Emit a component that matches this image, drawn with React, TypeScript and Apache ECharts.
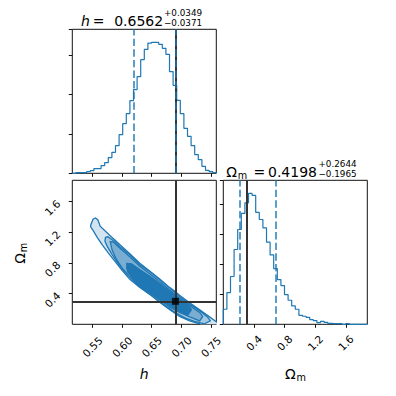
import React, { useEffect, useRef } from "react";
import * as echarts from "echarts";

// ---------- data ----------
const hRange = [0.516, 0.759];
const omRange = [0.0, 1.88];

// 40-bin histogram counts
const hCounts = [0, 9, 9, 9, 22, 34, 60, 60, 98, 136, 200, 267, 352, 492, 632, 759, 925, 1065, 1230, 1446,
  1577, 1657, 1666, 1666, 1641, 1590, 1514, 1294, 1120, 929, 759, 572, 471, 352, 238, 174, 89, 38, 22, 9];
const omCounts = [251, 529, 797, 1247, 1581, 1849, 2026, 2183, 2149, 1865, 1748, 1608, 1369, 1157, 930, 746, 646, 496, 401, 306,
  251, 150, 134, 117, 78, 62, 28, 50, 33, 17, 12, 12, 12, 0, 12, 0, 0, 0, 0, 0];

const hTicks = [0.55, 0.6, 0.65, 0.7, 0.75];
const omTicks = [0.4, 0.8, 1.2, 1.6];
const countTickStep = 500;

const hTruth = 0.69;
const omTruth = 0.3;
const hStats = { med: 0.6562, plus: 0.0349, minus: 0.0371 };
const omStats = { med: 0.4198, plus: 0.2644, minus: 0.1965 };

// contour levels (outer -> inner), vertices [h, Omega_m]
const contourL1 = [
  [0.547, 1.293], [0.551, 1.371], [0.555, 1.388], [0.559, 1.365], [0.561, 1.325], [0.563, 1.28],
  [0.58, 1.155], [0.5965, 1.038], [0.613, 0.92], [0.63, 0.796], [0.647, 0.691], [0.664, 0.587],
  [0.68, 0.482], [0.689, 0.43], [0.697, 0.378], [0.714, 0.28], [0.731, 0.188], [0.7475, 0.097],
  [0.764, 0.005], [0.77, -0.08], [0.739, -0.08], [0.731, 0.005], [0.714, 0.044], [0.697, 0.103],
  [0.68, 0.195], [0.664, 0.286], [0.647, 0.391], [0.63, 0.482], [0.613, 0.587], [0.6, 0.705],
  [0.588, 0.822], [0.576, 0.94], [0.566, 1.044], [0.558, 1.136], [0.551, 1.227], [0.547, 1.273],
];
const contourL2 = [
  [0.572, 1.136], [0.576, 1.143], [0.588, 1.077], [0.5965, 1.012], [0.613, 0.908], [0.63, 0.777],
  [0.647, 0.685], [0.664, 0.581], [0.68, 0.476], [0.697, 0.359], [0.714, 0.267], [0.731, 0.176],
  [0.744, 0.097], [0.749, 0.045], [0.739, 0.005], [0.722, 0.038], [0.706, 0.084], [0.689, 0.156],
  [0.672, 0.247], [0.655, 0.345], [0.638, 0.443], [0.622, 0.548], [0.605, 0.678], [0.593, 0.796],
  [0.583, 0.914], [0.575, 1.018], [0.571, 1.084],
];
const contourL3 = [
  [0.58, 1.08], [0.585, 1.077], [0.5965, 0.992], [0.613, 0.881], [0.63, 0.757], [0.647, 0.659],
  [0.664, 0.554], [0.68, 0.45], [0.697, 0.338], [0.714, 0.247], [0.731, 0.155], [0.736, 0.103],
  [0.731, 0.045], [0.714, 0.097], [0.697, 0.156], [0.68, 0.227], [0.664, 0.319], [0.647, 0.41],
  [0.63, 0.502], [0.613, 0.62], [0.6, 0.737], [0.59, 0.855], [0.583, 0.972],
];
const contourL4 = [
  [0.608, 0.796], [0.616, 0.79], [0.63, 0.711], [0.647, 0.626], [0.664, 0.528], [0.68, 0.43],
  [0.689, 0.385], [0.703, 0.3], [0.714, 0.228], [0.717, 0.189], [0.711, 0.123], [0.692, 0.188],
  [0.675, 0.273], [0.658, 0.358], [0.641, 0.443], [0.63, 0.509], [0.619, 0.594], [0.61, 0.678],
  [0.608, 0.727],
];
const contours = [contourL1, contourL2, contourL3, contourL4];

// ---------- styles ----------
const blue = "#1f77b4";
const fills = ["#d2e4f0", "#a5c9e1", "#79add2", "#1f77b4"];
const truthColor = "#333333";
const qColor = "rgba(31,119,180,0.72)";
const font = "DejaVu Sans";
const spine = "#111";

function histLine(range: number[], counts: number[]) {
  const n = counts.length;
  const w = (range[1] - range[0]) / n;
  const pts: number[][] = [[range[0], 0]];
  counts.forEach((c, i) => pts.push([range[0] + i * w, c]));
  pts.push([range[1], counts[n - 1]]);
  pts.push([range[1], 0]);
  return pts;
}

const tickStyle = { show: true, length: 3.5, lineStyle: { color: spine, width: 1 } };
const labelBase = { color: "#000", fontFamily: font, fontSize: 10.5 };

function vline(x: number, dashed: boolean) {
  return {
    xAxis: x,
    lineStyle: dashed
      ? { color: qColor, width: 2, type: [7.4, 3.2] }
      : { color: truthColor, width: 2, type: "solid" },
  };
}

const gridBox = { show: true, borderColor: spine, borderWidth: 1, backgroundColor: "transparent" };

function txt(x: number, y: number, text: string, size: number, align: string, extra: any = {}) {
  return {
    type: "text",
    x,
    y,
    ...(extra.el || {}),
    style: {
      text,
      fontFamily: font,
      fontSize: size,
      fontStyle: extra.italic ? "italic" : "normal",
      fill: "#000",
      align,
      textAlign: align,
      verticalAlign: "middle",
      textVerticalAlign: "middle",
    },
  };
}

const scriptSize = 8.8;

const option: any = {
  animation: false,
  backgroundColor: "#fff",
  grid: [
    { left: 72.3, top: 29.3, width: 144, height: 144, ...gridBox },
    { left: 72.3, top: 180.3, width: 144, height: 144, ...gridBox },
    { left: 223.3, top: 180.3, width: 144, height: 144, ...gridBox },
  ],
  xAxis: [
    {
      type: "value", gridIndex: 0, min: hRange[0], max: hRange[1],
      axisLine: { show: false }, splitLine: { show: false },
      axisTick: { ...tickStyle, customValues: hTicks },
      axisLabel: { show: false, customValues: hTicks },
    },
    {
      type: "value", gridIndex: 1, min: hRange[0], max: hRange[1],
      axisLine: { show: false }, splitLine: { show: false },
      axisTick: { ...tickStyle, customValues: hTicks },
      axisLabel: {
        ...labelBase, customValues: hTicks, rotate: 45, align: "center", verticalAlign: "middle", margin: 22.5,
        formatter: (v: number) => v.toFixed(2),
      },
    },
    {
      type: "value", gridIndex: 2, min: omRange[0], max: omRange[1],
      axisLine: { show: false }, splitLine: { show: false },
      axisTick: { ...tickStyle, customValues: omTicks },
      axisLabel: {
        ...labelBase, customValues: omTicks, rotate: 45, align: "center", verticalAlign: "middle", margin: 18.5,
        formatter: (v: number) => v.toFixed(1),
      },
    },
  ],
  yAxis: [
    {
      type: "value", gridIndex: 0, min: 0, max: Math.max(...hCounts) * 1.1, interval: countTickStep,
      axisLine: { show: false }, splitLine: { show: false },
      axisTick: tickStyle, axisLabel: { show: false },
    },
    {
      type: "value", gridIndex: 1, min: omRange[0], max: omRange[1],
      axisLine: { show: false }, splitLine: { show: false },
      axisTick: { ...tickStyle, customValues: omTicks },
      axisLabel: {
        ...labelBase, customValues: omTicks, rotate: 45, margin: 14,
        formatter: (v: number) => v.toFixed(1),
      },
    },
    {
      type: "value", gridIndex: 2, min: 0, max: Math.max(...omCounts) * 1.1, interval: countTickStep,
      axisLine: { show: false }, splitLine: { show: false },
      axisTick: tickStyle, axisLabel: { show: false },
    },
  ],
  series: [
    {
      type: "line", xAxisIndex: 0, yAxisIndex: 0, step: "end", showSymbol: false, silent: true,
      data: histLine(hRange, hCounts), lineStyle: { color: blue, width: 1.2 },
      markLine: {
        silent: true, symbol: ["none", "none"], label: { show: false }, animation: false,
        data: [vline(hTruth, false), vline(hStats.med - hStats.minus, true), vline(hStats.med + hStats.plus, true)],
      },
    },
    {
      type: "custom", xAxisIndex: 1, yAxisIndex: 1, clip: true, silent: true,
      data: contours.map((_, i) => [i]),
      renderItem: (params: any, api: any) => {
        const poly = contours[params.dataIndex];
        return {
          type: "polygon",
          shape: { points: poly.map((p) => api.coord(p)) },
          style: { fill: fills[params.dataIndex], stroke: blue, lineWidth: 1.3 },
        };
      },
    },
    {
      type: "scatter", xAxisIndex: 1, yAxisIndex: 1, silent: true, z: 10,
      data: [[hTruth, omTruth]], symbol: "rect", symbolSize: 7, itemStyle: { color: "#000" },
      markLine: {
        silent: true, symbol: ["none", "none"], label: { show: false }, animation: false,
        lineStyle: { color: truthColor, width: 2, type: "solid" },
        data: [{ xAxis: hTruth }, { yAxis: omTruth }],
      },
    },
    {
      type: "line", xAxisIndex: 2, yAxisIndex: 2, step: "end", showSymbol: false, silent: true,
      data: histLine(omRange, omCounts), lineStyle: { color: blue, width: 1.2 },
      markLine: {
        silent: true, symbol: ["none", "none"], label: { show: false }, animation: false,
        data: [vline(omTruth, false), vline(omStats.med - omStats.minus, true), vline(omStats.med + omStats.plus, true)],
      },
    },
  ],
  graphic: [
    // title h
    txt(81, 20.8, "h", 14, "left", { italic: true }),
    txt(98.6, 20.8, "=", 14, "center"),
    txt(163.2, 20.8, hStats.med.toFixed(4), 14, "right"),
    txt(164, 12.8, "+" + hStats.plus.toFixed(4), scriptSize, "left"),
    txt(164, 23.2, "\u2212" + hStats.minus.toFixed(4), scriptSize, "left"),
    // title Omega_m
    txt(226.3, 172.2, "\u03a9", 14, "left"),
    txt(237.8, 175.7, "m", 9.7, "left"),
    txt(259.3, 172.2, "=", 14, "center"),
    txt(317, 172.2, omStats.med.toFixed(4), 14, "right"),
    txt(318.5, 164.0, "+" + omStats.plus.toFixed(4), scriptSize, "left"),
    txt(318.5, 174.4, "\u2212" + omStats.minus.toFixed(4), scriptSize, "left"),
    // axis labels
    txt(144.2, 374, "h", 14, "center", { italic: true }),
    txt(285, 374.4, "\u03a9", 14, "left"),
    txt(296.5, 377.8, "m", 9.7, "left"),
    txt(20.1, 263.8, "\u03a9", 14, "left", { el: { rotation: Math.PI / 2 } }),
    txt(23.5, 252.3, "m", 9.7, "left", { el: { rotation: Math.PI / 2 } }),
  ],
};

export default function App() {
  const ref = useRef<HTMLDivElement>(null);
  useEffect(() => {
    const chart = echarts.init(ref.current!, null, { renderer: "svg" });
    chart.setOption(option);
    return () => chart.dispose();
  }, []);
  return (
    <div
      ref={ref}
      style={{ position: "fixed", left: 0, top: 0, width: 396, height: 396, background: "#fff" }}
    />
  );
}
